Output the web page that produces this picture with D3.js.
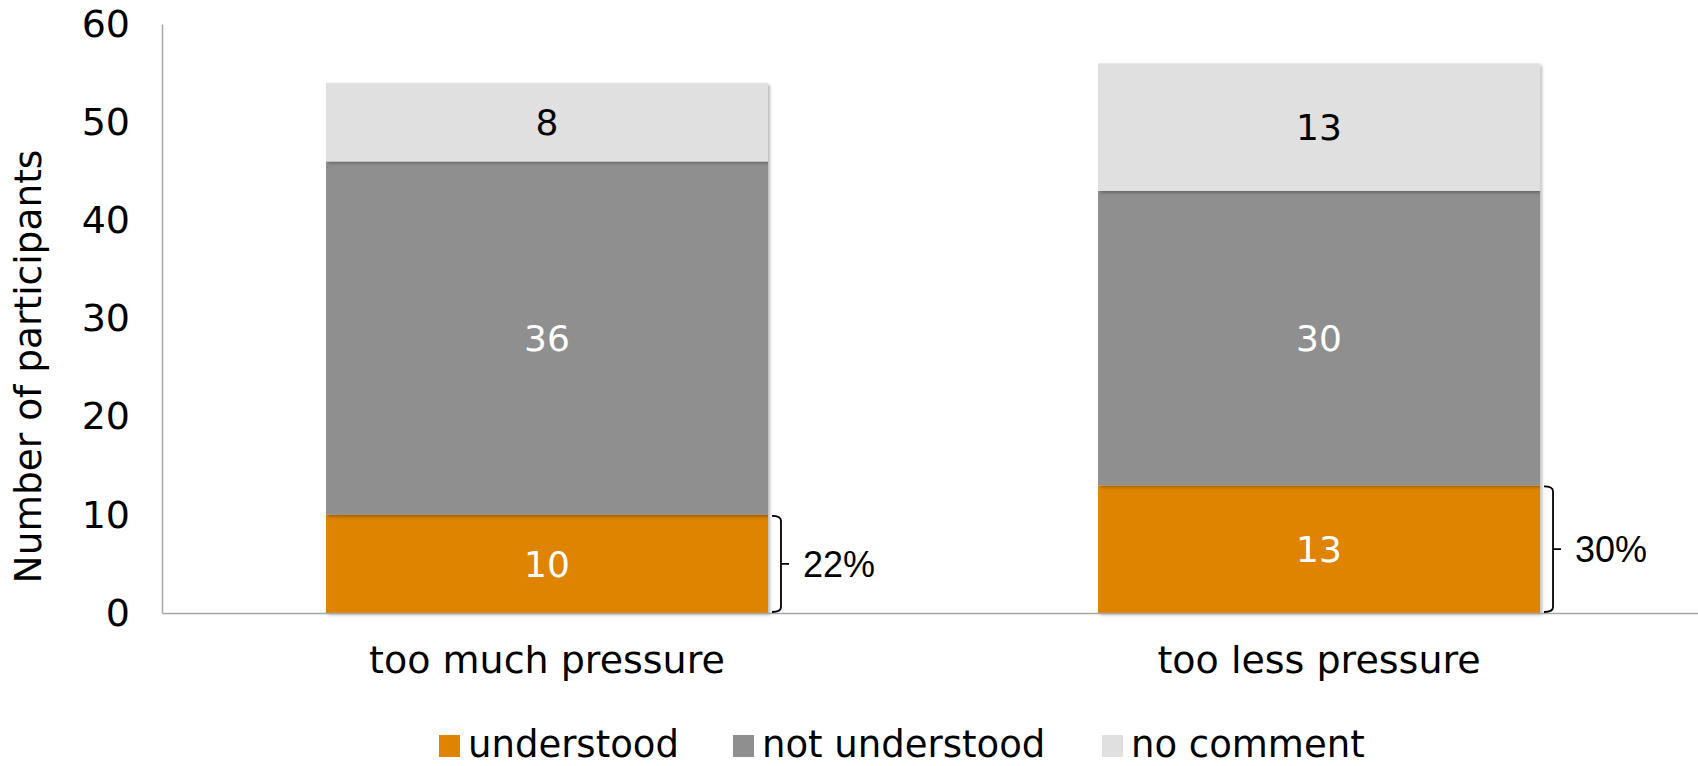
<!DOCTYPE html>
<html>
<head>
<meta charset="utf-8">
<script src="https://cdn.jsdelivr.net/npm/d3@7"></script>
<style>
  html, body { margin: 0; padding: 0; background: #fff; }
  svg { display: block; }
</style>
</head>
<body>
<svg id="chart" width="1698" height="766"></svg>
<script>
// Data
const categories = ["too much pressure", "too less pressure"];
const seriesNames = ["understood", "not understood", "no comment"];
const understood = [10, 13];
const notUnderstood = [36, 30];
const noComment = [8, 13];
const shareLabels = ["22%", "30%"];
const yTicks = [0, 10, 20, 30, 40, 50, 60];

const colors = ["#DF8400", "#8F8F8F", "#E0E0E0"];
const labelColors = ["#ffffff", "#ffffff", "#000000"];

const W = 1698, H = 766;
const margin = { left: 162, right: -6, top: 24, bottom: 153 };
const svg = d3.select("#chart");

// Shadow used on each bar segment
const defs = svg.append("defs");
const f = defs.append("filter").attr("id", "shadow")
  .attr("x", "-5%").attr("y", "-5%").attr("width", "110%").attr("height", "115%");
f.append("feDropShadow").attr("dx", 2).attr("dy", 2).attr("stdDeviation", 1.8)
  .attr("flood-color", "#000").attr("flood-opacity", 0.28);

const x = d3.scaleBand()
  .domain(categories)
  .range([margin.left, W - margin.right])
  .paddingInner(0.4275)
  .paddingOuter(0.2124);

const y = d3.scaleLinear()
  .domain([0, 60])
  .range([H - margin.bottom, margin.top]);

const rows = categories.map((c, i) => ({
  category: c,
  "understood": understood[i],
  "not understood": notUnderstood[i],
  "no comment": noComment[i]
}));
const stacked = d3.stack().keys(seriesNames)(rows);

const font = "'DejaVu Sans', Verdana, sans-serif";

// Bars
stacked.forEach((layer, li) => {
  const g = svg.append("g");
  g.selectAll("rect").data(layer).join("rect")
    .attr("x", d => x(d.data.category))
    .attr("width", x.bandwidth())
    .attr("y", d => y(d[1]))
    .attr("height", d => y(d[0]) - y(d[1]))
    .attr("fill", colors[li])
    .attr("filter", "url(#shadow)");
});

// Segment value labels
stacked.forEach((layer, li) => {
  svg.append("g").selectAll("text").data(layer).join("text")
    .attr("x", d => x(d.data.category) + x.bandwidth() / 2)
    .attr("y", d => (y(d[0]) + y(d[1])) / 2)
    .attr("dy", "0.36em")
    .attr("text-anchor", "middle")
    .attr("font-family", font)
    .attr("font-size", 36)
    .attr("fill", labelColors[li])
    .text(d => d[1] - d[0]);
});

// Axes
const axisColor = "#A6A6A6";
const yAxis = svg.append("g")
  .attr("transform", `translate(${margin.left},0)`)
  .call(d3.axisLeft(y).tickValues(yTicks).tickSize(0).tickPadding(32));
yAxis.select(".domain").attr("stroke", axisColor).attr("stroke-width", 1.5);
yAxis.selectAll("text").attr("font-family", font).attr("font-size", 38).attr("fill", "#000");

const xAxis = svg.append("g")
  .attr("transform", `translate(0,${y(0)})`)
  .call(d3.axisBottom(x).tickSize(0).tickPadding(33));
xAxis.select(".domain").attr("stroke", axisColor).attr("stroke-width", 1.5);
xAxis.selectAll("text").attr("font-family", font).attr("font-size", 38).attr("fill", "#000");

// Y axis title
svg.append("text")
  .attr("transform", `translate(41,${(y(0) + y(60)) / 2 + 48}) rotate(-90)`)
  .attr("text-anchor", "middle")
  .attr("font-family", font)
  .attr("font-size", 37.5)
  .attr("fill", "#000")
  .text("Number of participants");

// Brackets showing the share of "understood"
categories.forEach((c, i) => {
  const x0 = x(c) + x.bandwidth() + 4;
  const xv = x0 + 9;
  const yt = y(understood[i]) + 1, yb = y(0) - 1, ym = (yt + yb) / 2;
  const path = d3.path();
  path.moveTo(x0, yt);
  path.quadraticCurveTo(xv, yt, xv, yt + 5);
  path.lineTo(xv, yb - 5);
  path.quadraticCurveTo(xv, yb, x0, yb);
  path.moveTo(xv, ym);
  path.lineTo(xv + 8, ym);
  svg.append("path").attr("d", path.toString())
    .attr("fill", "none").attr("stroke", "#000").attr("stroke-width", 1.8);
  svg.append("text")
    .attr("x", xv + 22)
    .attr("y", ym)
    .attr("dy", "0.36em")
    .attr("font-family", "'Liberation Sans', Arial, sans-serif")
    .attr("font-size", 36)
    .attr("fill", "#000")
    .text(shareLabels[i]);
});

// Legend
const legendItems = [
  { name: seriesNames[0], color: colors[0], x: 439 },
  { name: seriesNames[1], color: colors[1], x: 733 },
  { name: seriesNames[2], color: colors[2], x: 1102 }
];
const lg = svg.append("g");
legendItems.forEach(it => {
  lg.append("rect").attr("x", it.x).attr("y", 735).attr("width", 21).attr("height", 22)
    .attr("fill", it.color);
  lg.append("text").attr("x", it.x + 29).attr("y", 757)
    .attr("font-family", font).attr("font-size", 37).attr("fill", "#000")
    .text(it.name);
});
</script>
</body>
</html>
